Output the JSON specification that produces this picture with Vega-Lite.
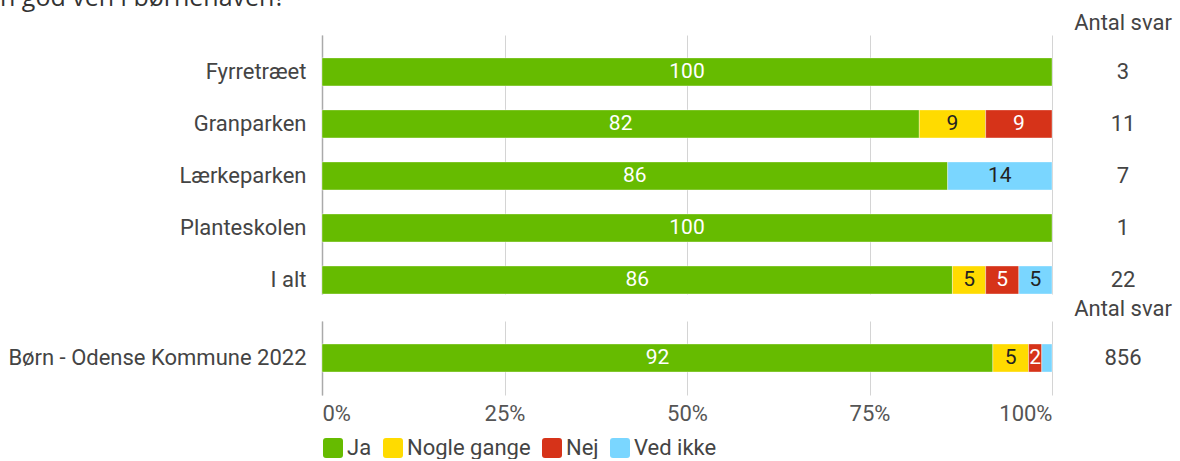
{
  "$schema": "https://vega.github.io/schema/vega-lite/v6.json",
  "padding": {"left": 0, "top": -14, "right": 0, "bottom": 0},
  "config": {
    "font": "Roboto",
    "view": {"stroke": null},
    "axis": {"labelFont": "Roboto", "labelFontSize": 22, "labelColor": "#444", "title": null, "labelLimit": 400}
  },
  "datasets": {
    "bars": [
      {"panel": "top", "group": "Fyrretræet", "cat": "Ja", "k": 1, "value": 100},
      {"panel": "top", "group": "Granparken", "cat": "Ja", "k": 1, "value": 81.82},
      {"panel": "top", "group": "Granparken", "cat": "Nogle gange", "k": 2, "value": 9.09},
      {"panel": "top", "group": "Granparken", "cat": "Nej", "k": 3, "value": 9.09},
      {"panel": "top", "group": "Lærkeparken", "cat": "Ja", "k": 1, "value": 85.71},
      {"panel": "top", "group": "Lærkeparken", "cat": "Ved ikke", "k": 4, "value": 14.29},
      {"panel": "top", "group": "Planteskolen", "cat": "Ja", "k": 1, "value": 100},
      {"panel": "top", "group": "I alt", "cat": "Ja", "k": 1, "value": 86.36},
      {"panel": "top", "group": "I alt", "cat": "Nogle gange", "k": 2, "value": 4.55},
      {"panel": "top", "group": "I alt", "cat": "Nej", "k": 3, "value": 4.55},
      {"panel": "top", "group": "I alt", "cat": "Ved ikke", "k": 4, "value": 4.54},
      {"panel": "bottom", "group": "Børn - Odense Kommune 2022", "cat": "Ja", "k": 1, "value": 91.9},
      {"panel": "bottom", "group": "Børn - Odense Kommune 2022", "cat": "Nogle gange", "k": 2, "value": 4.9},
      {"panel": "bottom", "group": "Børn - Odense Kommune 2022", "cat": "Nej", "k": 3, "value": 1.8},
      {"panel": "bottom", "group": "Børn - Odense Kommune 2022", "cat": "Ved ikke", "k": 4, "value": 1.4}
    ],
    "counts": [
      {"panel": "top", "group": "Fyrretræet", "n": 3},
      {"panel": "top", "group": "Granparken", "n": 11},
      {"panel": "top", "group": "Lærkeparken", "n": 7},
      {"panel": "top", "group": "Planteskolen", "n": 1},
      {"panel": "top", "group": "I alt", "n": 22},
      {"panel": "bottom", "group": "Børn - Odense Kommune 2022", "n": 856}
    ]
  },
  "vconcat": [
    {
      "hconcat": [
        {
          "width": 730,
          "height": 259,
          "data": {"name": "bars"},
          "transform": [{"filter": "datum.panel === 'top'"}],
          "title": {"text": "n god ven i børnehaven?", "anchor": "start", "frame": "bounds", "font": "Open Sans", "fontSize": 25, "fontWeight": "normal", "color": "#333", "offset": 24},
          "encoding": {
            "y": {"field": "group", "type": "nominal", "sort": ["Fyrretræet", "Granparken", "Lærkeparken", "Planteskolen", "I alt"],
              "scale": {"type": "band", "paddingInner": 0.4615, "paddingOuter": 0.22, "align": 1},
              "axis": {"domain": true, "domainColor": "#aaa", "domainWidth": 1.5, "ticks": false, "labelPadding": 16, "minExtent": 322, "maxExtent": 322}}
          },
          "layer": [
            {
              "mark": {"type": "bar", "stroke": "white", "strokeWidth": 0.6, "strokeOpacity": 0.6},
              "encoding": {
                "x": {"field": "value", "type": "quantitative", "stack": "zero", "scale": {"domain": [0, 100]},
                  "axis": {"values": [0, 25, 50, 75, 100], "labels": false, "ticks": false, "domain": false, "grid": true, "gridColor": "#d4d4d4", "gridWidth": 1}},
                "color": {"field": "cat", "type": "nominal", "scale": {"domain": ["Ja", "Nogle gange", "Nej", "Ved ikke"], "range": ["#66bb00", "#ffdb00", "#d63319", "#7ad6ff"]}, "legend": null},
                "order": {"field": "k", "type": "quantitative"}
              }
            },
            {
              "mark": {"type": "text", "fontSize": 21, "baseline": "middle", "align": "center"},
              "transform": [{"filter": "datum.value >= 1.5"}],
              "encoding": {
                "x": {"field": "value", "type": "quantitative", "stack": "zero", "bandPosition": 0.5},
                "order": {"field": "k", "type": "quantitative"},
                "text": {"field": "value", "type": "quantitative", "format": ".0f"},
                "color": {"condition": {"test": "datum.cat === 'Ja' || datum.cat === 'Nej'", "value": "white"}, "value": "#222"}
              }
            }
          ]
        },
        {
          "width": 100,
          "height": 259,
          "data": {"name": "counts"},
          "transform": [{"filter": "datum.panel === 'top'"}],
          "title": {"text": "Antal svar", "anchor": "middle", "font": "Roboto", "fontSize": 22, "fontWeight": "normal", "color": "#444", "offset": 0},
          "mark": {"type": "text", "fontSize": 22, "color": "#444", "baseline": "middle"},
          "encoding": {
            "y": {"field": "group", "type": "nominal", "sort": ["Fyrretræet", "Granparken", "Lærkeparken", "Planteskolen", "I alt"],
              "scale": {"type": "band", "paddingInner": 0.4615, "paddingOuter": 0.22, "align": 1}, "axis": null},
            "text": {"field": "n", "type": "quantitative"}
          }
        }
      ],
      "spacing": 20,
      "resolve": {"scale": {"color": "independent", "y": "independent"}}
    },
    {
      "hconcat": [
        {
          "width": 730,
          "height": 74,
          "data": {"name": "bars"},
          "transform": [{"filter": "datum.panel === 'bottom'"}],
          "encoding": {
            "y": {"field": "group", "type": "nominal",
              "scale": {"type": "band", "paddingInner": 0.4615, "paddingOuter": 0.442, "align": 0.5},
              "axis": {"domain": true, "domainColor": "#aaa", "domainWidth": 1.5, "ticks": false, "labelPadding": 16, "minExtent": 322, "maxExtent": 322}}
          },
          "layer": [
            {
              "mark": {"type": "bar", "stroke": "white", "strokeWidth": 0.6, "strokeOpacity": 0.6},
              "encoding": {
                "x": {"field": "value", "type": "quantitative", "stack": "zero", "scale": {"domain": [0, 100]},
                  "axis": {"values": [0, 25, 50, 75, 100], "labelExpr": "datum.value + '%'", "labelColor": "#555", "labelPadding": 8, "ticks": false, "domain": false, "grid": true, "gridColor": "#d4d4d4", "gridWidth": 1}},
                "color": {"field": "cat", "type": "nominal", "scale": {"domain": ["Ja", "Nogle gange", "Nej", "Ved ikke"], "range": ["#66bb00", "#ffdb00", "#d63319", "#7ad6ff"]},
                  "legend": {"orient": "bottom", "direction": "horizontal", "title": null, "labelFont": "Roboto", "labelFontSize": 22, "labelColor": "#444",
                    "symbolType": "M-0.7,-1 L0.7,-1 Q1,-1 1,-0.7 L1,0.7 Q1,1 0.7,1 L-0.7,1 Q-1,1 -1,0.7 L-1,-0.7 Q-1,-1 -0.7,-1 Z",
                    "symbolSize": 400, "symbolStrokeWidth": 0, "symbolOpacity": 1, "labelOffset": 3, "columnPadding": 10, "offset": 13}},
                "order": {"field": "k", "type": "quantitative"}
              }
            },
            {
              "mark": {"type": "text", "fontSize": 21, "baseline": "middle", "align": "center"},
              "transform": [{"filter": "datum.value >= 1.5"}],
              "encoding": {
                "x": {"field": "value", "type": "quantitative", "stack": "zero", "bandPosition": 0.5},
                "order": {"field": "k", "type": "quantitative"},
                "text": {"field": "value", "type": "quantitative", "format": ".0f"},
                "color": {"condition": {"test": "datum.cat === 'Ja' || datum.cat === 'Nej'", "value": "white"}, "value": "#222"}
              }
            }
          ]
        },
        {
          "width": 100,
          "height": 74,
          "data": {"name": "counts"},
          "transform": [{"filter": "datum.panel === 'bottom'"}],
          "title": {"text": "Antal svar", "anchor": "middle", "font": "Roboto", "fontSize": 22, "fontWeight": "normal", "color": "#444", "offset": 0},
          "mark": {"type": "text", "fontSize": 22, "color": "#444", "baseline": "middle"},
          "encoding": {
            "y": {"field": "group", "type": "nominal",
              "scale": {"type": "band", "paddingInner": 0.4615, "paddingOuter": 0.442, "align": 0.5}, "axis": null},
            "text": {"field": "n", "type": "quantitative"}
          }
        }
      ],
      "spacing": 20,
      "resolve": {"scale": {"color": "independent", "y": "independent"}}
    }
  ],
  "spacing": 3,
  "resolve": {"scale": {"color": "independent", "y": "independent", "x": "independent"}}
}
